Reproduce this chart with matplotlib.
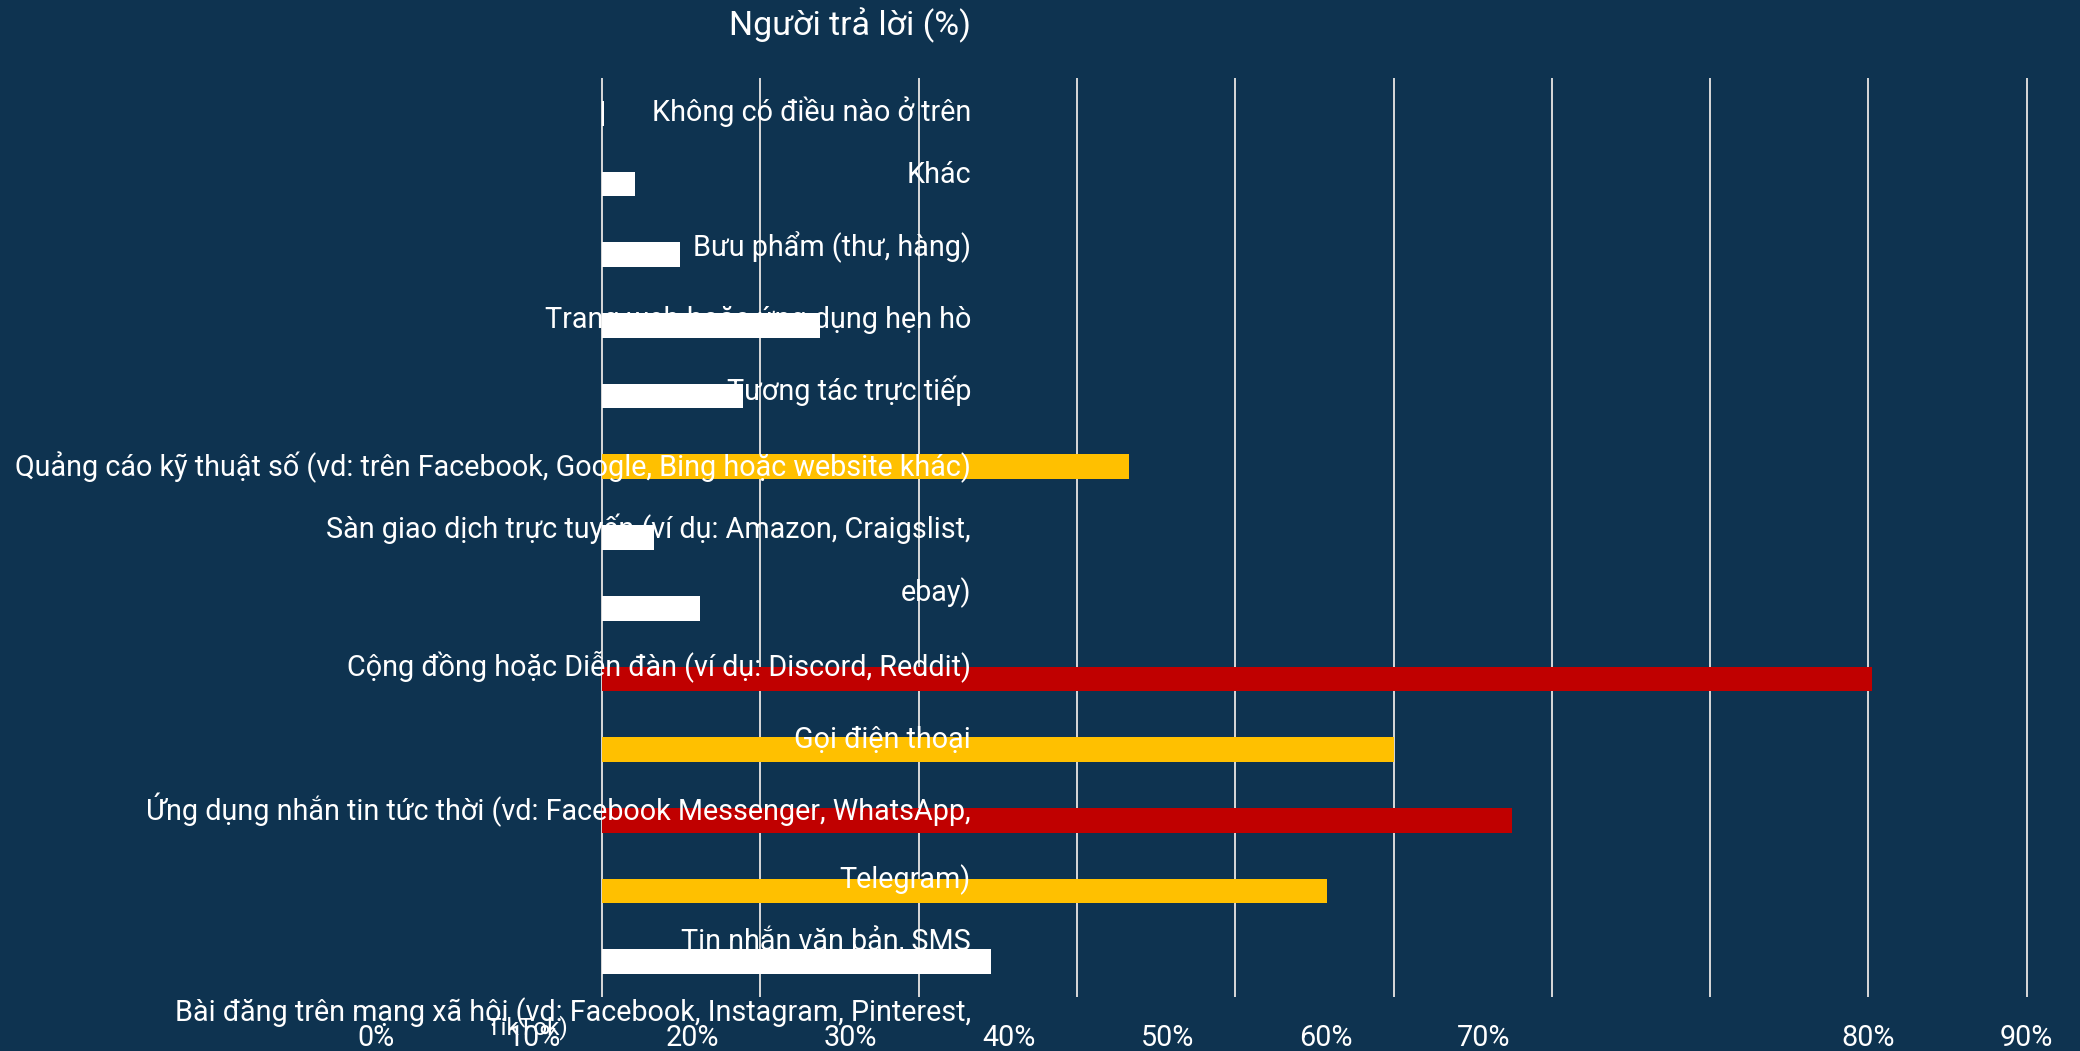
import matplotlib
matplotlib.use("Agg")
import matplotlib.pyplot as plt
import matplotlib.transforms as mtransforms

# data
bar_values = [0.15, 2.1, 4.9, 13.8, 8.9, 33.3, 3.3, 6.2, 80.2, 50.0, 57.5, 45.8, 24.6]
bar_colors = ["#FFFFFF", "#FFFFFF", "#FFFFFF", "#FFFFFF", "#FFFFFF", "#FFC000",
              "#FFFFFF", "#FFFFFF", "#C00000", "#FFC000", "#C00000", "#FFC000", "#FFFFFF"]
label_lines = [
    "Không có điều nào ở trên",
    "Khác",
    "Bưu phẩm (thư, hàng)",
    "Trang web hoặc ứng dụng hẹn hò",
    "Tương tác trực tiếp",
    "Quảng cáo kỹ thuật số (vd: trên Facebook, Google, Bing hoặc website khác)",
    "Sàn giao dịch trực tuyến (ví dụ: Amazon, Craigslist,",
    "ebay)",
    "Cộng đồng hoặc Diễn đàn (ví dụ: Discord, Reddit)",
    "Gọi điện thoại",
    "Ứng dụng nhắn tin tức thời (vd: Facebook Messenger, WhatsApp,",
    "Telegram)",
    "Tin nhắn văn bản, SMS",
    "Bài đăng trên mạng xã hội (vd: Facebook, Instagram, Pinterest,",
]
extra_line = "TikTok)"
tick_values = [0, 10, 20, 30, 40, 50, 60, 70, 80, 90]
tick_labels = ["0%", "10%", "20%", "30%", "40%", "50%", "60%", "70%", "80%", "90%"]
title = "Người trả lời (%)"

# layout (pixels of a 2080x1051 canvas)
W, H = 2080, 1051
bg = "#0E3350"
grid_c = "#D9D9D9"
label_right = 971
label_baselines = [121, 183, 256, 328, 400, 476, 538, 601, 675, 748, 820, 888, 951, 1021]
tick_shift = [-14.3] * 8 + [0, 0]
tick_baseline = 1046

fig = plt.figure(figsize=(W / 100, H / 100), dpi=100, facecolor=bg)
plt.rcParams["font.family"] = ["Roboto", "DejaVu Sans"]

px_per_unit = 15.83
x0, x1 = -0.2, 90.2
left_px = 602 + x0 * px_per_unit
width_px = (x1 - x0) * px_per_unit
ax = fig.add_axes([left_px / W, 1 - 997 / H, width_px / W, 919 / H])
ax.set_facecolor(bg)

ypos = list(range(len(bar_values)))
ax.barh(ypos, bar_values, height=0.35, color=bar_colors, zorder=2)
ax.set_xlim(x0, x1)
ax.set_ylim(len(bar_values) - 0.5, -0.5)
ax.set_xticks(tick_values)
ax.set_yticks([])
ax.tick_params(axis="x", length=0, labelbottom=False)
ax.grid(axis="x", color=grid_c, linewidth=1.4, zorder=1)
ax.set_axisbelow(True)
for s in ax.spines.values():
    s.set_visible(False)

# fit font size so the widest label spans like the reference
renderer = fig.canvas.get_renderer()
probe = fig.text(0, 0, label_lines[5], fontsize=10)
w10 = probe.get_window_extent(renderer).width
probe.remove()
fs = 10 * 955 / w10

for line, yb in zip(label_lines, label_baselines):
    fig.text(label_right / W, 1 - yb / H, line, ha="right", va="baseline",
             color="white", fontsize=fs, zorder=5)
fig.text(527 / W, 1 - 1034 / H, extra_line, ha="center", va="baseline",
         color="white", fontsize=fs * 0.85, zorder=5)

fig.text(label_right / W, 1 - 35 / H, title, ha="right", va="baseline",
         color="white", fontsize=fs * 1.18)

trans = mtransforms.blended_transform_factory(ax.transData, fig.transFigure)
for v, lab, sh in zip(tick_values, tick_labels, tick_shift):
    ax.text(v + sh, 1 - tick_baseline / H, lab, transform=trans, ha="center",
            va="baseline", color="white", fontsize=fs, clip_on=False)

fig.savefig("out.png", dpi=100, facecolor=bg)
